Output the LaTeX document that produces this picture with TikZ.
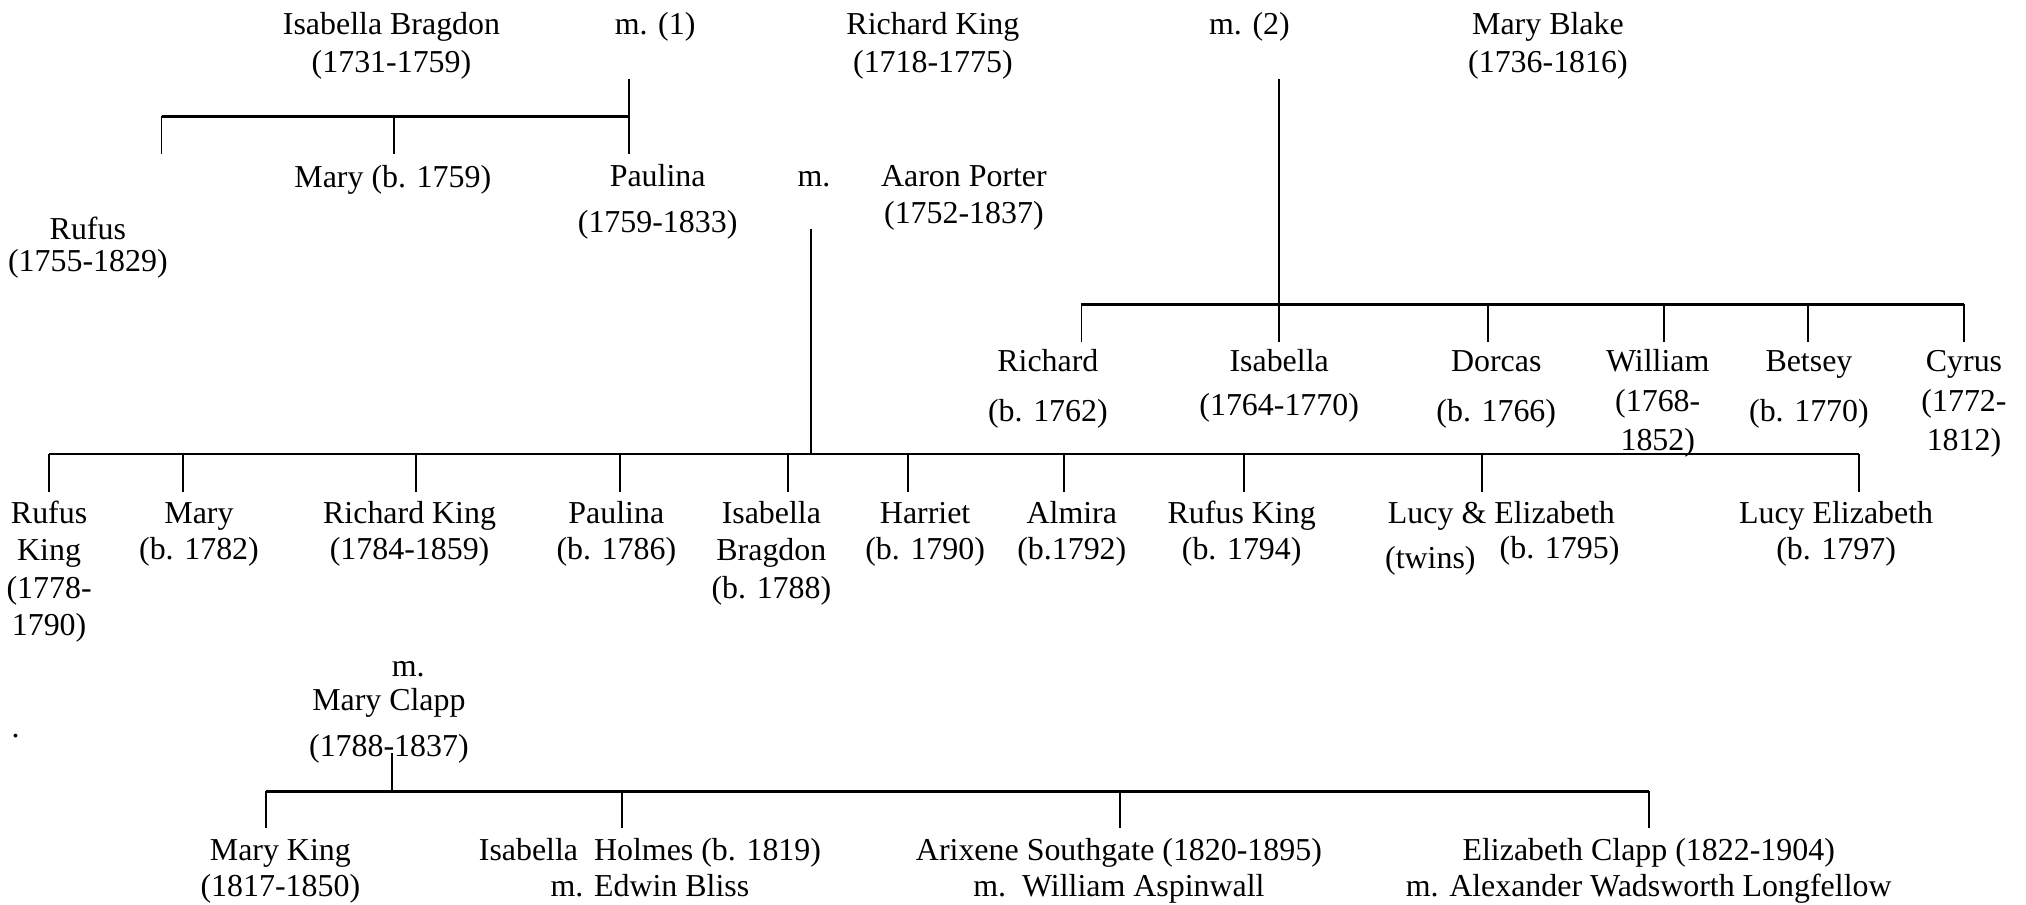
\documentclass[tikz,border=0pt]{standalone}
\usepackage{fontspec}
\setmainfont{Liberation Serif}
\newcommand{\fs}{\fontsize{12.35}{14.5}\selectfont}
\begin{document}
\begin{tikzpicture}[x=0.5pt,y=-0.5pt,
  t/.style={anchor=north,inner sep=0pt,align=center,font=\fs},
  bar/.style={line width=1pt},
  drop/.style={line width=0.75pt}]
\useasboundingbox (0,0) rectangle (1568,700);

% ---- top generation ----
\node[t] (isab)   at (303,6.2)  {\strut Isabella Bragdon\\(1731-1759)};
\node[t] (m1)     at (507,6.2)  {\strut m. (1)};
\node[t] (rking)  at (722,6.2)  {\strut Richard King\\(1718-1775)};
\node[t] (m2)     at (967,6.2)  {\strut m. (2)};
\node[t] (mblake) at (1198,6.2) {\strut Mary Blake\\(1736-1816)};

% ---- first marriage children ----
\node[t] (rufus)   at (68,165)   {\strut Rufus\\[-2.25pt](1755-1829)};
\node[t] (mary1)   at (304,124.5){\strut Mary (b. 1759)};
\node[t] (paulina) at (509,124)  {\strut Paulina\\[3pt](1759-1833)};
\node[t] (mP)      at (630,124)  {\strut m.};
\node[t] (aaron)   at (746,124)  {\strut Aaron Porter\\[-0.5pt](1752-1837)};

\coordinate (m1top) at (487,61);
\coordinate (m1bar) at (487,90);
\coordinate (f1L)   at (125,90);
\coordinate (f1M)   at (305,90);
\coordinate (f1Le)  at (125,119.5);
\coordinate (f1Me)  at (305,119.5);
\coordinate (f1Re)  at (487,119.5);
\draw[drop] (m1top) -- (m1bar);
\draw[bar] (f1L) -- (m1bar);
\draw[drop] (f1L) -- (f1Le);
\draw[drop] (f1M) -- (f1Me);
\draw[drop] (m1bar) -- (f1Re);

% ---- second marriage children ----
\node[t] (rich)    at (811,267.2)  {\strut Richard\\[4.8pt](b. 1762)};
\node[t] (isab2)   at (990,267.2)  {\strut Isabella\\[2.25pt](1764-1770)};
\node[t] (dorcas)  at (1158,267.2) {\strut Dorcas\\[4.8pt](b. 1766)};
\node[t] (william) at (1283,267.2) {\strut William\\[0.75pt](1768-\\[0.75pt]1852)};
\node[t] (betsey)  at (1400,267.2) {\strut Betsey\\[4.8pt](b. 1770)};
\node[t] (cyrus)   at (1520,267.2) {\strut Cyrus\\[0.75pt](1772-\\[0.75pt]1812)};

\coordinate (m2top) at (990,61);
\coordinate (m2bar) at (990,235.5);
\coordinate (f2L)   at (837,235.5);
\coordinate (f2R)   at (1520,235.5);
\draw[drop] (m2top) -- (m2bar);
\draw[bar] (f2L) -- (f2R);
\foreach \x/\n in {837/a,990/b,1151.5/c,1287.7/d,1399.5/e,1520/f}{
  \coordinate (f2\n) at (\x,235.5);
  \coordinate (f2\n e) at (\x,264.5);
  \draw[drop] (f2\n) -- (f2\n e);
}

% ---- Paulina & Aaron Porter children ----
\node[t] (rk)      at (38,384.2)   {\strut Rufus\\King\\(1778-\\1790)};
\node[t] (mary2)   at (154,384.2)  {\strut Mary\\[-0.5pt](b. 1782)};
\node[t] (richk)   at (317,384.2)  {\strut Richard King\\[-0.5pt](1784-1859)};
\node[t] (paul2)   at (477,384.2)  {\strut Paulina\\[-0.5pt](b. 1786)};
\node[t] (ib)      at (597,384.2)  {\strut Isabella\\Bragdon\\(b. 1788)};
\node[t] (harriet) at (716,384.2)  {\strut Harriet\\[-0.5pt](b. 1790)};
\node[t] (almira)  at (829.5,384.2){\strut Almira\\[-0.5pt](b.1792)};
\node[t] (rking2)  at (961,384.2)  {\strut Rufus King\\[-0.5pt](b. 1794)};
\node[t] (lucy)    at (1162,384.2) {\strut Lucy \& Elizabeth};
\node[t] (twins)   at (1107,419.2) {\strut (twins)};
\node[t] (lucyd)   at (1207,411.6) {\strut (b. 1795)};
\node[t] (lucyE)   at (1421,384.2) {\strut Lucy Elizabeth\\[-0.5pt](b. 1797)};

\coordinate (mPtop) at (628,177);
\coordinate (mPbar) at (628,351.4);
\coordinate (f3L)   at (38,351.4);
\coordinate (f3R)   at (1438.7,351.4);
\draw[drop] (mPtop) -- (mPbar);
\draw[bar] (f3L) -- (f3R);
\foreach \x/\n in {38/a,141.5/b,322/c,480/d,610/e,702.7/f,823.4/g,962.8/h,1147.3/i,1438.7/j}{
  \coordinate (f3\n) at (\x,351.4);
  \coordinate (f3\n e) at (\x,381);
  \draw[drop] (f3\n) -- (f3\n e);
}

% ---- Richard King & Mary Clapp ----
\node[t] (mC)    at (316,503.2) {\strut m.};
\node[t] (clapp) at (301,529)   {\strut Mary Clapp\\[3.5pt](1788-1837)};
\node[anchor=base,inner sep=0pt,font=\fs] (dot) at (12,571) {.};

\node[t] (mk) at (217,645.2)  {\strut Mary King\\[-0.5pt](1817-1850)};
\node[t] (ih) at (503,645.2)  {\strut Isabella\ \ Holmes (b. 1819)\\[-0.5pt]m. Edwin Bliss};
\node[t] (as) at (866,645.2)  {\strut Arixene Southgate (1820-1895)\\[-0.5pt]m.\ \ William Aspinwall};
\node[t] (ec) at (1276,645.2) {\strut Elizabeth Clapp (1822-1904)\\[-0.5pt]m. Alexander Wadsworth Longfellow};

\coordinate (mCtop) at (303.6,583);
\coordinate (mCbar) at (303.6,612.5);
\coordinate (f4L)   at (205.8,612.5);
\coordinate (f4R)   at (1276,612.5);
\draw[drop] (mCtop) -- (mCbar);
\draw[bar] (f4L) -- (f4R);
\foreach \x/\n in {205.8/a,481.2/b,866.7/c,1276/d}{
  \coordinate (f4\n) at (\x,612.5);
  \coordinate (f4\n e) at (\x,641);
  \draw[drop] (f4\n) -- (f4\n e);
}
\end{tikzpicture}
\end{document}
